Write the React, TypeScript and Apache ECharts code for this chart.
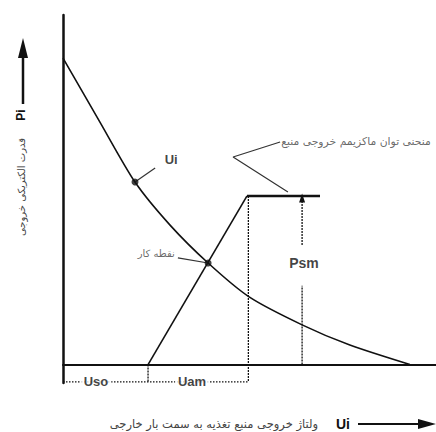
import React, { useEffect, useRef } from "react";
import * as echarts from "echarts";

// Curve Pi(Ui)
const curveU = [0, 0.99, 1.93, 2.87, 3.89, 4.99, 6.41, 7.69, 9.3];
const curveP = [8.33, 6.59, 4.96, 3.79, 2.76, 1.84, 1.08, 0.53, 0];
// Rising line Psm(Ui) and its top plateau
const riseU = [2.28, 4.93];
const riseP = [0, 4.58];
const plateauU = [4.93, 6.89];
const plateauP = [4.58, 4.58];
// Vertical reference lines
const uamU = 4.97;
const psmU = 6.41;
const psmTopP = [3.25, 4.53];
const psmBottomP = [0, 2.14];
const dimP = -0.47;
// Highlighted points
const dotU = [1.93, 3.89];
const dotP = [4.96, 2.76];
// Leader lines
const leaderUiU = [1.93, 2.47];
const leaderUiP = [4.96, 5.34];
const leaderOpU = [3.08, 3.89];
const leaderOpP = [2.9, 2.76];
const leaderTopU = [6.03, 4.56, 5.82];
const leaderTopP = [4.69, 5.64, 6.05];
// Text labels
const latinTexts = ["Ui", "Psm", "Uso", "Uam"];
const latinU = [2.9, 6.46, 0.885, 3.46];
const latinP = [5.58, 2.76, -0.47, -0.47];
const topText = "منحنی توان ماکزیمم خروجی منبع";
const topTextU = 5.85;
const topTextP = 6.05;
const opText = "نقطه کار";
const opTextU = 3.0;
const opTextP = 3.03;
const xTitle = "ولتاژ خروجی منبع تغذیه به سمت بار خارجی";
const yTitle = "قدرت الکتریکی خروجی";

const INK = "#111";
const PERSIAN_FONT = "'DejaVu Sans', sans-serif";
const LATIN_FONT = "Arial, 'Liberation Sans', sans-serif";
const zip = (a: number[], b: number[]) => a.map((v, i) => [v, b[i]]);

export default function App() {
  const ref = useRef<HTMLDivElement>(null);
  useEffect(() => {
    if (!ref.current) return;
    const chart = echarts.init(ref.current, undefined, { renderer: "svg" });
    const lineBase = { type: "line", symbol: "none", silent: true, z: 3 } as any;
    const dotted = { color: INK, width: 1.3, type: [2, 1] };
    chart.setOption({
      animation: false,
      backgroundColor: "#fff",
      grid: { left: 63, right: 0, top: 15, bottom: 49 },
      xAxis: {
        type: "value", min: 0, max: 10,
        axisLine: { show: true, onZero: true, lineStyle: { color: INK, width: 2 } },
        axisTick: { show: false }, axisLabel: { show: false }, splitLine: { show: false },
      },
      yAxis: {
        type: "value", min: -0.5, max: 9.5,
        axisLine: { show: true, onZero: false, lineStyle: { color: INK, width: 2.5 } },
        axisTick: { show: false }, axisLabel: { show: false }, splitLine: { show: false },
      },
      series: [
        { ...lineBase, data: zip(curveU, curveP), smooth: 0.25, lineStyle: { color: INK, width: 1.6 } },
        { ...lineBase, data: zip(riseU, riseP), lineStyle: { color: INK, width: 1.6 } },
        { ...lineBase, data: zip(plateauU, plateauP), lineStyle: { color: INK, width: 2.5 } },
        { ...lineBase, data: [[uamU, plateauP[0]], [uamU, dimP]], lineStyle: dotted },
        {
          ...lineBase,
          data: [
            { value: [psmU, psmTopP[0]], symbol: "none" },
            { value: [psmU, psmTopP[1]], symbol: "triangle", symbolSize: [6, 9] },
          ],
          itemStyle: { color: INK },
          lineStyle: dotted,
        },
        { ...lineBase, data: zip([psmU, psmU], psmBottomP), lineStyle: dotted },
        { ...lineBase, data: [[0, dimP], [uamU, dimP]], lineStyle: { ...dotted, width: 1.2, type: [1.5, 1.5] } },
        { ...lineBase, data: [[riseU[0], 0], [riseU[0], dimP]], lineStyle: dotted },
        { ...lineBase, data: zip(leaderUiU, leaderUiP), lineStyle: { color: "#333", width: 1.2 } },
        { ...lineBase, data: zip(leaderOpU, leaderOpP), lineStyle: { color: "#333", width: 1.2 } },
        { ...lineBase, data: zip(leaderTopU, leaderTopP), lineStyle: { color: "#333", width: 1.2 } },
        {
          type: "scatter", silent: true, z: 5, symbol: "circle", symbolSize: 7,
          itemStyle: { color: INK }, data: zip(dotU, dotP),
        },
        {
          type: "scatter", silent: true, z: 6, symbolSize: 0, clip: false,
          data: latinTexts.map((t, i) => ({
            value: [latinU[i], latinP[i]],
            label: {
              show: true, position: "inside", formatter: t,
              fontFamily: LATIN_FONT,
              fontWeight: "bold", fontSize: i === 1 ? 14 : 13, color: INK,
              backgroundColor: i >= 2 ? "#fff" : "transparent",
              padding: i >= 2 ? [0, 3] : 0,
            },
          })),
        },
        {
          type: "scatter", silent: true, z: 6, symbolSize: 0, clip: false,
          data: [
            {
              value: [topTextU, topTextP],
              label: { show: true, position: "right", distance: 0, formatter: topText, fontSize: 10.8, color: "#444", fontFamily: PERSIAN_FONT },
            },
            {
              value: [opTextU, opTextP],
              label: { show: true, position: "left", distance: 0, formatter: opText, fontSize: 10, color: "#444", fontFamily: PERSIAN_FONT },
            },
          ],
        },
      ],
      graphic: [
        { type: "line", shape: { x1: 23, y1: 104, x2: 23, y2: 55 }, style: { stroke: INK, lineWidth: 2.5 } },
        { type: "polygon", shape: { points: [[23, 38], [18, 58], [28, 58]] }, style: { fill: INK } },
        {
          type: "text", x: 21, y: 115, rotation: Math.PI / 2,
          style: { text: "Pi", fontSize: 12, fontWeight: "bold", fill: INK, fontFamily: LATIN_FONT, align: "center", verticalAlign: "middle" },
        },
        {
          type: "text", x: 21, y: 187, rotation: Math.PI / 2,
          style: { text: yTitle, fontSize: 10, fill: "#444", fontFamily: PERSIAN_FONT, align: "center", verticalAlign: "middle" },
        },
        {
          type: "text", x: 318, y: 424,
          style: { text: xTitle, fontSize: 11.5, fill: "#444", fontFamily: PERSIAN_FONT, align: "right", verticalAlign: "middle" },
        },
        {
          type: "text", x: 343, y: 424,
          style: { text: "Ui", fontSize: 14, fontWeight: "bold", fill: INK, fontFamily: LATIN_FONT, align: "center", verticalAlign: "middle" },
        },
        { type: "line", shape: { x1: 358, y1: 424, x2: 422, y2: 424 }, style: { stroke: INK, lineWidth: 2 } },
        { type: "polygon", shape: { points: [[436, 424], [418, 419], [418, 429]] }, style: { fill: INK } },
      ],
    });
    return () => chart.dispose();
  }, []);
  return <div ref={ref} style={{ position: "fixed", left: 0, top: 0, width: 436, height: 432 }} />;
}
